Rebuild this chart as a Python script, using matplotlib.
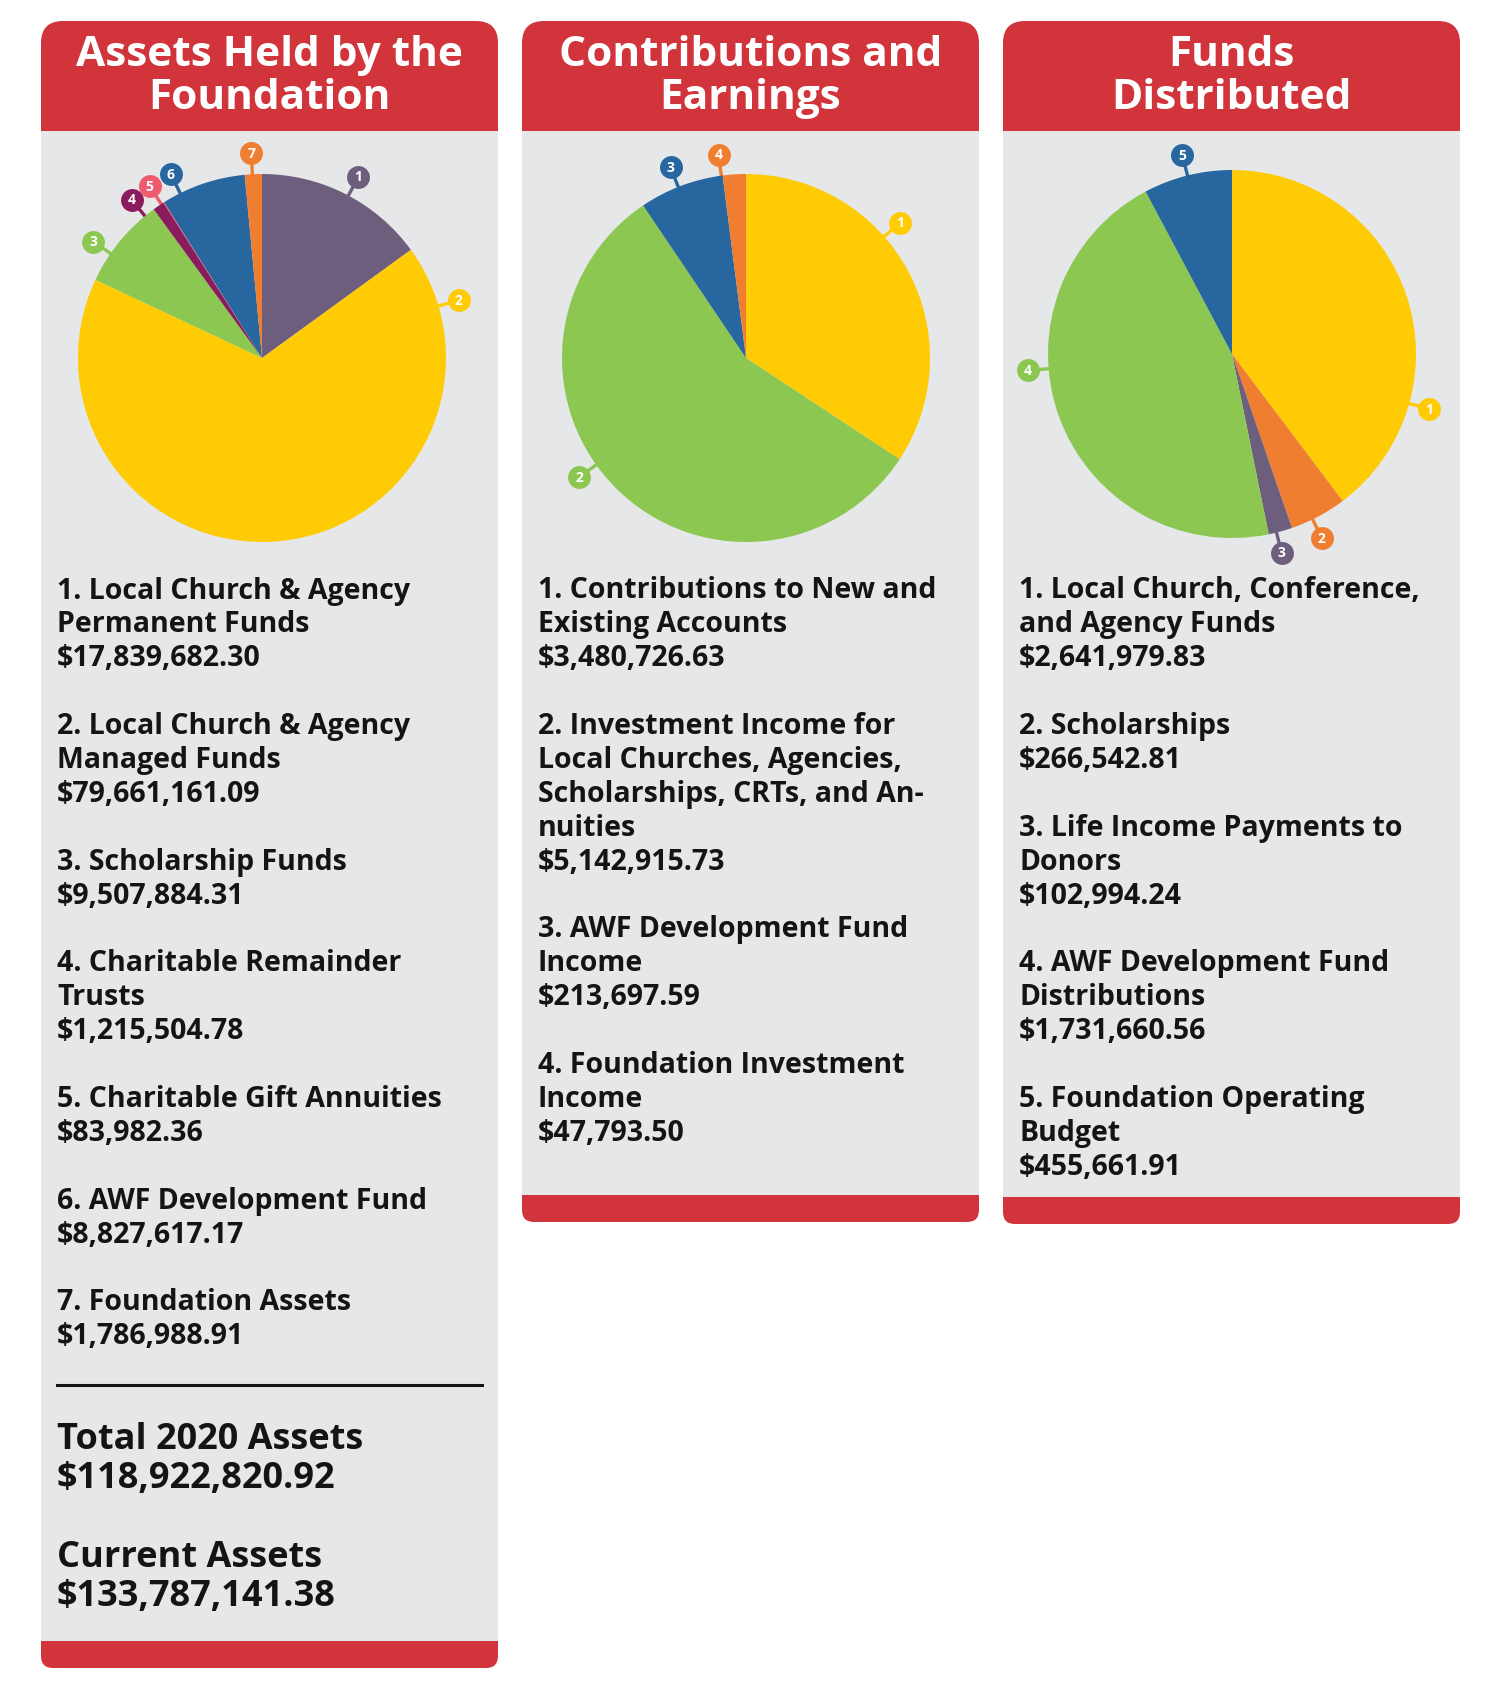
import matplotlib.pyplot as plt
from matplotlib.patches import FancyBboxPatch, Rectangle
import numpy as np

plt.rcParams['font.family'] = ['Open Sans', 'DejaVu Sans']

# --- data ---
titles = ['Assets Held by the\nFoundation', 'Contributions and\nEarnings', 'Funds\nDistributed']

assets_amounts = [17839682.30, 79661161.09, 9507884.31, 1215504.78, 83982.36, 8827617.17, 1786988.91]
# slice sizes in degrees as drawn in the picture (they do not follow the printed amounts)
contrib_deg = [123.4, 202.6, 26.7, 7.3]
distrib_deg = [143.0, 18.0, 7.5, 163.5, 28.0]

assets_text = [
    ['1. Local Church & Agency', 'Permanent Funds', '$17,839,682.30'],
    ['2. Local Church & Agency', 'Managed Funds', '$79,661,161.09'],
    ['3. Scholarship Funds', '$9,507,884.31'],
    ['4. Charitable Remainder', 'Trusts', '$1,215,504.78'],
    ['5. Charitable Gift Annuities', '$83,982.36'],
    ['6. AWF Development Fund', '$8,827,617.17'],
    ['7. Foundation Assets', '$1,786,988.91'],
]
contrib_text = [
    ['1. Contributions to New and', 'Existing Accounts', '$3,480,726.63'],
    ['2. Investment Income for', 'Local Churches, Agencies,', 'Scholarships, CRTs, and An-', 'nuities', '$5,142,915.73'],
    ['3. AWF Development Fund', 'Income', '$213,697.59'],
    ['4. Foundation Investment', 'Income', '$47,793.50'],
]
distrib_text = [
    ['1. Local Church, Conference,', 'and Agency Funds', '$2,641,979.83'],
    ['2. Scholarships', '$266,542.81'],
    ['3. Life Income Payments to', 'Donors', '$102,994.24'],
    ['4. AWF Development Fund', 'Distributions', '$1,731,660.56'],
    ['5. Foundation Operating', 'Budget', '$455,661.91'],
]
totals_text = [['Total 2020 Assets', '$118,922,820.92'], ['Current Assets', '$133,787,141.38']]

# --- style ---
RED = '#D2343C'
GRAY = '#E6E7E9'
INK = '#141414'
YEL, GRN, BLU, ORG = '#FECB05', '#8CC751', '#27669E', '#F07E30'
PUR, DPUR, PINK = '#6E5E7E', '#8A1B5C', '#EF5A6E'

pies = [
    dict(vals=assets_amounts, colors=[PUR, YEL, GRN, DPUR, PINK, BLU, ORG],
         label_ang=[28, 73.6, 304.6, 320.5, 326.8, 333.6, 357], text=assets_text),
    dict(vals=contrib_deg, colors=[YEL, GRN, BLU, ORG],
         label_ang=[48.7, 234.5, 338.4, 352.3], text=contrib_text),
    dict(vals=distrib_deg, colors=[YEL, ORG, PUR, GRN, BLU],
         label_ang=[105.6, 154, 166, 265.4, 346], text=distrib_text),
]

W, H = 1500, 1696
panel_x = [41, 522, 1003]
panel_w = 457
bar_top = [1641, 1195, 1197]
pie_c = [(262, 358), (746, 358), (1232, 354)]
R = 184

fig = plt.figure(figsize=(W / 100, H / 100), dpi=100)
bg = fig.add_axes([0, 0, 1, 1])
bg.set_xlim(0, W)
bg.set_ylim(H, 0)
bg.axis('off')

for i in range(3):
    x0 = panel_x[i]
    # header and bottom bar with rounded corners, body covers the inner corners
    bg.add_patch(FancyBboxPatch((x0 + 22, 21 + 22), panel_w - 44, 120,
                                boxstyle='round,pad=22', fc=RED, ec='none'))
    bg.add_patch(FancyBboxPatch((x0 + 12, bar_top[i] - 8), panel_w - 24, 23,
                                boxstyle='round,pad=12', fc=RED, ec='none'))
    bg.add_patch(Rectangle((x0, 131), panel_w, bar_top[i] - 131, fc=GRAY, ec='none'))
    bg.text(x0 + panel_w / 2, 77, titles[i], color='white', fontsize=30.5, fontweight='bold',
            ha='center', va='center', linespacing=1.06)

    # body text
    y = 591
    for group in pies[i]['text']:
        for line in group:
            bg.text(x0 + 16, y, line, color=INK, fontsize=20.5, fontweight='bold', va='center')
            y += 33.9
        y += 33.9

    # pie
    cx, cy = pie_c[i]
    ax = fig.add_axes([(cx - R) / W, 1 - (cy + R) / H, 2 * R / W, 2 * R / H])
    ax.pie(pies[i]['vals'], colors=pies[i]['colors'], startangle=90, counterclock=False,
           radius=1, wedgeprops=dict(linewidth=0))
    ax.set_xlim(-1, 1)
    ax.set_ylim(-1, 1)
    ax.axis('off')

    # numbered markers
    for k, a in enumerate(pies[i]['label_ang']):
        t = np.deg2rad(a)
        dx, dy = np.sin(t), -np.cos(t)
        col = pies[i]['colors'][k]
        bg.plot([cx + dx * R * 0.99, cx + dx * (R + 14)], [cy + dy * R * 0.99, cy + dy * (R + 14)],
                color=col, lw=2.4, solid_capstyle='butt')
        mx, my = cx + dx * (R + 21), cy + dy * (R + 21)
        bg.plot(mx, my, 'o', ms=16.5, color=col, mec='none')
        bg.text(mx, my + 0.5, str(k + 1), color='white', fontsize=10, fontweight='bold',
                ha='center', va='center')

# totals block in the first panel
bg.plot([57, 482], [1385, 1385], color=INK, lw=2.2)
ty = [1440, 1558]
for j, (a, b) in enumerate(totals_text):
    bg.text(57, ty[j], a, color=INK, fontsize=26, fontweight='bold', va='center')
    bg.text(57, ty[j] + 39, b, color=INK, fontsize=26, fontweight='bold', va='center')

fig.savefig('out.png', dpi=100, facecolor='white')
